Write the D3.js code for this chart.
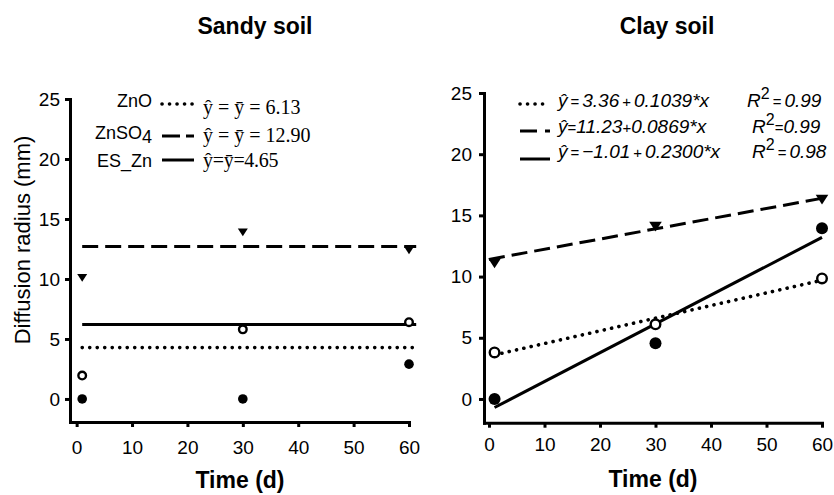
<!DOCTYPE html>
<html>
<head>
<meta charset="utf-8">
<script src="https://cdn.jsdelivr.net/npm/d3@7"></script>
<style>
  body { margin: 0; background: #fff; }
  svg { display: block; font-family: Arial, "Liberation Sans", sans-serif; }
  .axis path, .axis line { stroke: #000; stroke-width: 3; }
  .axis text { font-size: 19px; fill: #000; }
</style>
</head>
<body>
<svg width="834" height="495"></svg>
<script>
// sampling days
var times = [1, 30, 60];
var xTicks = [0, 10, 20, 30, 40, 50, 60];
var yTicks = [0, 5, 10, 15, 20, 25];

// sandy soil, diffusion radius (mm)
var sandyZnO = [1.95, 5.8, 6.4];
var sandyZnSO4 = [10.1, 13.9, 12.4];
var sandyESZn = [0, 0, 2.9];
// horizontal mean lines as drawn: ZnO (dotted), ZnSO4 (dashed), ES_Zn (solid)
var sandyMeans = [4.28, 12.7, 6.2];
var sandyMeanSpan = [1, 61.3];
var sandyLegendNames = ["ZnO", "ZnSO4", "ES_Zn"];
var sandyLegendEq = ["\u0177 = \u0233 = 6.13", "\u0177 = \u0233 = 12.90", "\u0177=\u0233=4.65"];

// clay soil
var clayZnO = [3.8, 6.1, 9.85];
var clayZnSO4 = [11.1, 14.1, 16.3];
var clayESZn = [0, 4.55, 13.95];
// fitted lines as drawn: [x0, y0, x1, y1]
var clayFitZnO = [1, 3.6, 60, 9.7];
var clayFitZnSO4 = [0, 11.4, 60, 16.4];
var clayFitESZn = [1, -0.7, 60, 13.2];
var clayIntercepts = ["3.36", "11.23", "\u22121.01"];
var claySlopes = ["0.1039", "0.0869", "0.2300"];
var clayR2 = ["0.99", "0.99", "0.98"];

var dash = {dotted: "0.1,7.4", dashed: "16,7", solid: null};
var svg = d3.select("svg");

function styleLine(sel, style, w) {
  sel.attr("stroke", "#000")
    .attr("stroke-width", style === "dotted" ? 3.6 : w)
    .attr("stroke-linecap", style === "dotted" ? "round" : "butt")
    .attr("stroke-dasharray", dash[style]);
}

function panel(opt) {
  var x = d3.scaleLinear().domain(opt.xDomain).range(opt.xRange);
  var y = d3.scaleLinear().domain(opt.yDomain).range(opt.yRange);
  var g = svg.append("g");

  g.append("g").attr("class", "axis")
    .attr("transform", "translate(0," + opt.yRange[0] + ")")
    .call(d3.axisBottom(x).tickValues(xTicks).tickSize(5).tickSizeOuter(0).tickPadding(opt.xPad))
    .select(".domain").attr("stroke-linecap", "square");
  g.append("g").attr("class", "axis")
    .attr("transform", "translate(" + opt.xRange[0] + ",0)")
    .call(d3.axisLeft(y).tickValues(yTicks).tickSize(5).tickSizeOuter(0).tickPadding(opt.yPad))
    .select(".domain").attr("stroke-linecap", "square");
  g.selectAll(".axis text").attr("fill", "#000");

  opt.lines.forEach(function (l) {
    g.append("line")
      .attr("x1", x(l.v[0])).attr("y1", y(l.v[1]))
      .attr("x2", x(l.v[2])).attr("y2", y(l.v[3]))
      .call(styleLine, l.style, 3);
  });

  var ms = opt.marker;
  g.selectAll("circle.open").data(opt.open).enter()
    .append("circle").attr("class", "open")
    .attr("cx", function (d, i) { return x(times[i]); })
    .attr("cy", function (d) { return y(d); })
    .attr("r", ms.open).attr("fill", "#fff").attr("stroke", "#000").attr("stroke-width", 2.4);
  g.selectAll("circle.filled").data(opt.filled).enter()
    .append("circle").attr("class", "filled")
    .attr("cx", function (d, i) { return x(times[i]); })
    .attr("cy", function (d) { return y(d); })
    .attr("r", ms.filled).attr("fill", "#000");
  g.selectAll("path.tri").data(opt.tri).enter()
    .append("path").attr("class", "tri")
    .attr("transform", function (d, i) { return "translate(" + x(times[i]) + "," + y(d) + ")"; })
    .attr("d", "M" + (-ms.tri) + "," + (-ms.tri * 0.75) + "L" + ms.tri + "," + (-ms.tri * 0.75) + "L0," + (ms.tri * 0.8) + "Z")
    .attr("fill", "#000");

  g.append("text")
    .attr("x", opt.titleX).attr("y", 34)
    .attr("text-anchor", "middle")
    .style("font-size", "23px").style("font-weight", "bold")
    .text(opt.title);
  g.append("text")
    .attr("x", opt.xTitleX).attr("y", opt.xTitleY)
    .attr("text-anchor", "middle")
    .style("font-size", "23px").style("font-weight", "bold")
    .text("Time (d)");
  return g;
}

// ---- Sandy soil
var left = panel({
  xDomain: [-1.2, 60], xRange: [70, 409],
  yDomain: [-1.92, 25], yRange: [422, 99],
  xPad: 14, yPad: 5,
  open: sandyZnO, filled: sandyESZn, tri: sandyZnSO4,
  marker: {open: 3.8, filled: 4.8, tri: 5},
  lines: [
    {v: [sandyMeanSpan[0], sandyMeans[1], sandyMeanSpan[1], sandyMeans[1]], style: "dashed"},
    {v: [sandyMeanSpan[0], sandyMeans[2], sandyMeanSpan[1], sandyMeans[2]], style: "solid"},
    {v: [sandyMeanSpan[0], sandyMeans[0], sandyMeanSpan[1], sandyMeans[0]], style: "dotted"}
  ],
  title: "Sandy soil", titleX: 255,
  xTitleX: 240, xTitleY: 488
});

left.append("text")
  .attr("transform", "translate(30,240) rotate(-90)")
  .attr("text-anchor", "middle")
  .style("font-size", "22px")
  .text("Diffusion radius (mm)");

var legStyles = ["dotted", "dashed", "solid"];
var leftRows = [{base: 107, line: 104, eq: 114}, {base: 139, line: 136, eq: 142}, {base: 167, line: 160, eq: 167}];
leftRows.forEach(function (r, i) {
  var t = left.append("text")
    .attr("x", 152).attr("y", r.base)
    .attr("text-anchor", "end")
    .style("font-size", "18px");
  if (sandyLegendNames[i] === "ZnSO4") {
    t.append("tspan").text("ZnSO");
    t.append("tspan").attr("dy", 4).text("4");
  } else {
    t.text(sandyLegendNames[i]);
  }
  left.append("line")
    .attr("x1", 162).attr("x2", 194).attr("y1", r.line).attr("y2", r.line)
    .call(styleLine, legStyles[i], 3)
    .attr("stroke-dasharray", legStyles[i] === "dashed" ? "18,6" : dash[legStyles[i]]);
  left.append("text")
    .attr("x", 203).attr("y", r.eq)
    .style("font-family", "'Liberation Serif', 'Times New Roman', serif")
    .style("font-size", "20px")
    .style("letter-spacing", i === 2 ? "-0.3px" : "0px")
    .text(sandyLegendEq[i]);
});

// ---- Clay soil
var right = panel({
  xDomain: [-0.9, 60], xRange: [484, 822],
  yDomain: [-1.94, 25], yRange: [422.7, 93],
  xPad: 10, yPad: 7,
  open: clayZnO, filled: clayESZn, tri: clayZnSO4,
  marker: {open: 4.8, filled: 6, tri: 6.3},
  lines: [
    {v: clayFitZnSO4, style: "dashed"},
    {v: clayFitESZn, style: "solid"},
    {v: clayFitZnO, style: "dotted"}
  ],
  title: "Clay soil", titleX: 667,
  xTitleX: 653, xTitleY: 487
});

var rightRows = [{line: 104, base: 107, r2x: 747, tight: false},
                 {line: 131, base: 133, r2x: 752, tight: true},
                 {line: 159, base: 158, r2x: 752, tight: false}];
rightRows.forEach(function (r, i) {
  right.append("line")
    .attr("x1", 520).attr("x2", 550).attr("y1", r.line).attr("y2", r.line)
    .call(styleLine, legStyles[i], 3)
    .attr("stroke-dasharray", legStyles[i] === "dashed" ? "17,8" : dash[legStyles[i]]);
  var sp = r.tight ? "" : "\u2009";
  var t = right.append("text")
    .attr("x", 558).attr("y", r.base)
    .style("font-size", "19px").style("font-style", "italic");
  t.append("tspan").text("\u0177");
  t.append("tspan").style("font-style", "normal").style("font-size", "15px").text(sp + "=" + sp);
  t.append("tspan").text(clayIntercepts[i]);
  t.append("tspan").style("font-style", "normal").style("font-size", "15px").text(sp + "+" + sp);
  t.append("tspan").text(claySlopes[i] + "*x");

  var q = right.append("text")
    .attr("x", r.r2x).attr("y", r.base)
    .style("font-size", "19px").style("font-style", "italic");
  q.append("tspan").text("R");
  q.append("tspan").attr("dy", -8).style("font-size", "16px").style("font-style", "normal").text("2");
  q.append("tspan").attr("dy", 8).style("font-style", "normal").style("font-size", "15px").text(sp + "=" + sp);
  q.append("tspan").text(clayR2[i]);
});
</script>
</body>
</html>
